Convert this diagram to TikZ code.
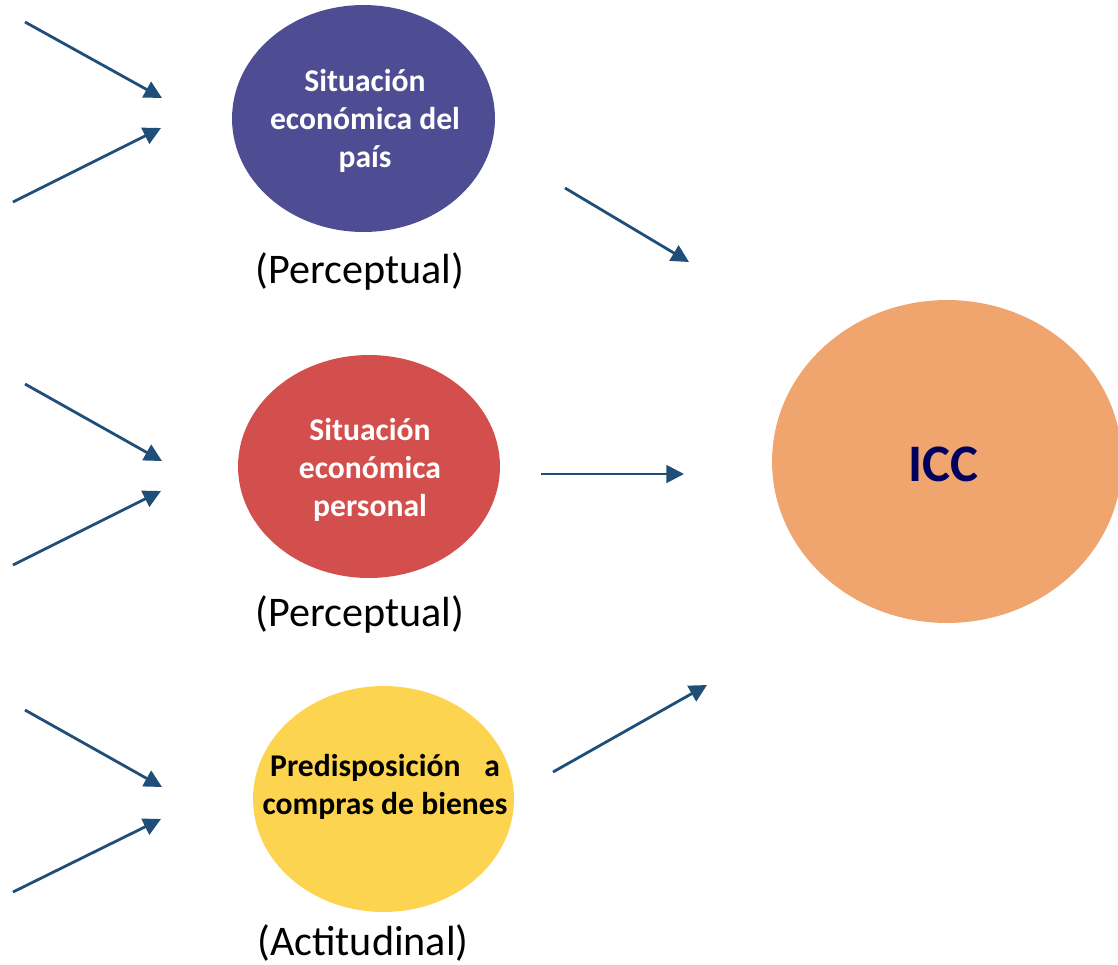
\documentclass[tikz,border=0pt]{standalone}
\usepackage{fontspec}
\setmainfont{Carlito}
\usepackage{xcolor}
\usetikzlibrary{positioning,shapes,arrows.meta}
\definecolor{pais}{HTML}{4E4D94}
\definecolor{personal}{HTML}{D34F4E}
\definecolor{compras}{HTML}{FDD44F}
\definecolor{icc}{HTML}{F0A46E}
\definecolor{iccText}{HTML}{00005E}
\definecolor{flecha}{HTML}{1F4E79}

\begin{document}
\begin{tikzpicture}[x=0.02cm,y=-0.02cm]
\tikzstyle{every node}+=[inner sep=0pt]
\tikzstyle{bubble}=[ellipse,font=\bfseries\fontsize{18}{21.6}\selectfont,align=center]
\tikzstyle{kind}=[font=\fontsize{24}{28}\selectfont]
\tikzstyle{flow}=[draw=flecha,line width=1.6pt,-{Triangle[length=10pt,width=10pt]}]
\useasboundingbox (0,0) rectangle (1118,964);
% factores
\node [bubble,fill=pais,text=white,minimum width=5.26cm,minimum height=4.54cm] (pais) at (363.5,118.5) {};
\node [bubble,text=white] (paisText) at (365,121) {Situación\\económica del\\país};
\node [kind] (paisKind) at (360,271) {(Perceptual)};
\node [bubble,fill=personal,text=white,minimum width=5.24cm,minimum height=4.46cm] (personal) at (369,466.5) {};
\node [bubble,text=white] (personalText) at (370,470) {Situación\\económica\\personal};
\node [kind] (personalKind) at (360,614) {(Perceptual)};
\node [bubble,fill=compras,minimum width=5.22cm,minimum height=4.52cm] (compras) at (383.5,799) {};
\node [bubble] (comprasText) at (385,787) {Predisposición\hspace{0.75em}a\\compras de bienes};
\node [kind] (comprasKind) at (363,943) {(Actitudinal)};
% indice
\node [ellipse,fill=icc,minimum width=7cm,minimum height=6.46cm] (icc) at (947,461.5) {};
\node [font=\bfseries\fontsize{30}{36}\selectfont,text=iccText] (iccText) at (943,464) {ICC};
% extremos de las flechas
\coordinate (a1) at (25,22);   \coordinate (a1e) at (162,98);
\coordinate (a2) at (13,202);  \coordinate (a2e) at (161,128);
\coordinate (b1) at (25,384);  \coordinate (b1e) at (162,461);
\coordinate (b2) at (13,565);  \coordinate (b2e) at (161,491);
\coordinate (c1) at (25,710);  \coordinate (c1e) at (162,787);
\coordinate (c2) at (13,892);  \coordinate (c2e) at (161,819);
\coordinate (paisOut) at (565,188);    \coordinate (paisIn) at (689,262);
\coordinate (personalOut) at (541,474); \coordinate (personalIn) at (684,474);
\coordinate (comprasOut) at (553,772);  \coordinate (comprasIn) at (707,685);
% flechas
\draw [flow] (a1) -- (a1e);
\draw [flow] (a2) -- (a2e);
\draw [flow] (b1) -- (b1e);
\draw [flow] (b2) -- (b2e);
\draw [flow] (c1) -- (c1e);
\draw [flow] (c2) -- (c2e);
\draw [flow] (paisOut) -- (paisIn);
\draw [flow] (personalOut) -- (personalIn);
\draw [flow] (comprasOut) -- (comprasIn);
\end{tikzpicture}
\end{document}
